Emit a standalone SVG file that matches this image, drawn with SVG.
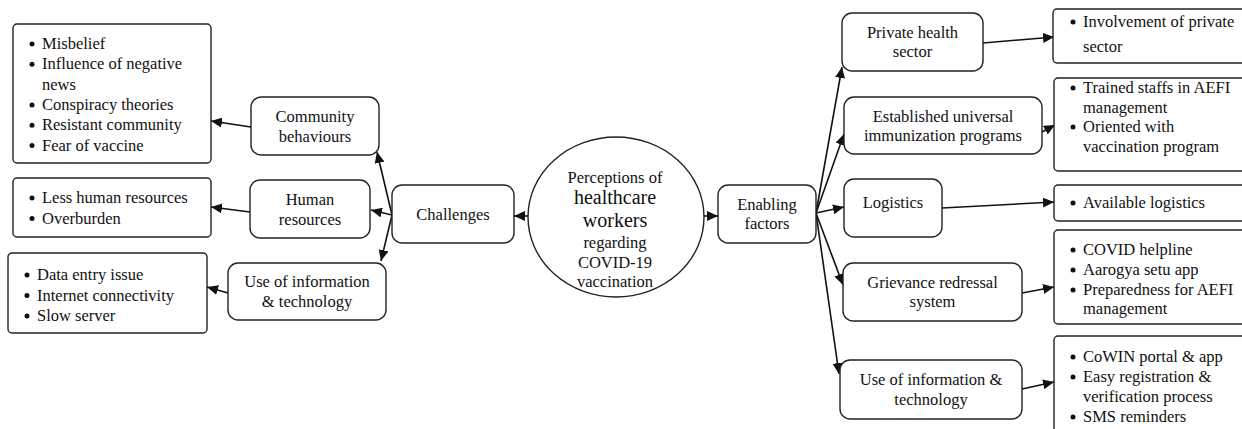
<svg xmlns="http://www.w3.org/2000/svg" width="1242" height="429" viewBox="0 0 1242 429">
  <style>
    text { font-family: "Liberation Serif", "Times New Roman", serif; font-size: 16.5px; fill: #111; }
    .node { fill: #fff; stroke: #222; stroke-width: 1.4; }
    .list { fill: #fff; stroke: #222; stroke-width: 1.4; }
    .c { text-anchor: middle; }
    .big { font-size: 20px; }
    .bul { fill: #111; }
    .edge { stroke: #111; stroke-width: 1.6; fill: none; marker-end: url(#arrow); }
  </style>
  <defs>
    <marker id="arrow" markerUnits="userSpaceOnUse" markerWidth="12" markerHeight="10" refX="11" refY="5" orient="auto">
      <path d="M0,0 L11,5 L0,10 Z" fill="#111"/>
    </marker>
  </defs>
  <rect width="1242" height="429" fill="#fff"/>

  <!-- connectors -->
  <g id="connectors">
    <line class="edge" x1="528" y1="216" x2="514" y2="216"/>
    <line class="edge" x1="704" y1="216" x2="718" y2="216"/>
    <line class="edge" x1="392" y1="215" x2="377" y2="152"/>
    <line class="edge" x1="392" y1="215" x2="371" y2="210"/>
    <line class="edge" x1="392" y1="215" x2="381" y2="261"/>
    <line class="edge" x1="251" y1="127" x2="211" y2="121"/>
    <line class="edge" x1="250" y1="212" x2="211" y2="207"/>
    <line class="edge" x1="228" y1="293" x2="207" y2="287"/>
    <line class="edge" x1="816" y1="213" x2="842" y2="67"/>
    <line class="edge" x1="816" y1="213" x2="844" y2="134"/>
    <line class="edge" x1="816" y1="213" x2="844" y2="207"/>
    <line class="edge" x1="816" y1="213" x2="843" y2="285"/>
    <line class="edge" x1="816" y1="213" x2="839" y2="374"/>
    <line class="edge" x1="983" y1="43" x2="1054" y2="37"/>
    <line class="edge" x1="1042" y1="132" x2="1055" y2="125"/>
    <line class="edge" x1="942" y1="208" x2="1054" y2="202"/>
    <line class="edge" x1="1022" y1="293" x2="1054" y2="287"/>
    <line class="edge" x1="1022" y1="389" x2="1054" y2="382"/>
  </g>

  <!-- centre topic -->
  <g id="topic">
    <ellipse cx="616" cy="217" rx="88" ry="80" fill="#fff" stroke="#222" stroke-width="1.4"/>
    <text class="c" x="615" y="183">Perceptions of</text>
    <text class="c big" x="615" y="204">healthcare</text>
    <text class="c big" x="615" y="227">workers</text>
    <text class="c" x="615" y="248">regarding</text>
    <text class="c" x="615" y="268">COVID-19</text>
    <text class="c" x="615" y="287">vaccination</text>
  </g>

  <!-- challenges branch -->
  <g id="challenges">
    <rect class="node" x="392" y="185" width="122" height="58" rx="10"/>
    <text class="c" x="453" y="220">Challenges</text>
  </g>
  <g id="community-behaviours">
    <rect class="node" x="251" y="97" width="128" height="58" rx="10"/>
    <text class="c" x="315" y="122">Community</text>
    <text class="c" x="315" y="142">behaviours</text>
  </g>
  <g id="human-resources">
    <rect class="node" x="250" y="180" width="120" height="58" rx="10"/>
    <text class="c" x="310" y="205">Human</text>
    <text class="c" x="310" y="225">resources</text>
  </g>
  <g id="it-challenges">
    <rect class="node" x="228" y="263" width="158" height="57" rx="10"/>
    <text class="c" x="307" y="287">Use of information</text>
    <text class="c" x="307" y="307">&amp; technology</text>
  </g>
  <g id="community-list">
    <rect class="list" x="13" y="24" width="198" height="139" rx="4"/>
    <circle class="bul" cx="32" cy="44" r="2.5"/><text x="42" y="49">Misbelief</text>
    <circle class="bul" cx="32" cy="64.3" r="2.5"/><text x="42" y="69.3">Influence of negative</text>
    <text x="42" y="89.6">news</text>
    <circle class="bul" cx="32" cy="104.9" r="2.5"/><text x="42" y="109.9">Conspiracy theories</text>
    <circle class="bul" cx="32" cy="125.2" r="2.5"/><text x="42" y="130.2">Resistant community</text>
    <circle class="bul" cx="32" cy="145.5" r="2.5"/><text x="42" y="150.5">Fear of vaccine</text>
  </g>
  <g id="human-list">
    <rect class="list" x="13" y="178" width="198" height="59" rx="4"/>
    <circle class="bul" cx="32" cy="198" r="2.5"/><text x="42" y="203">Less human resources</text>
    <circle class="bul" cx="32" cy="218.5" r="2.5"/><text x="42" y="223.5">Overburden</text>
  </g>
  <g id="it-challenges-list">
    <rect class="list" x="8" y="253" width="199" height="80" rx="4"/>
    <circle class="bul" cx="27" cy="275" r="2.5"/><text x="37" y="280">Data entry issue</text>
    <circle class="bul" cx="27" cy="295.5" r="2.5"/><text x="37" y="300.5">Internet connectivity</text>
    <circle class="bul" cx="27" cy="316" r="2.5"/><text x="37" y="321">Slow server</text>
  </g>

  <!-- enabling factors branch -->
  <g id="enabling-factors">
    <rect class="node" x="718" y="185" width="98" height="58" rx="10"/>
    <text class="c" x="767" y="210">Enabling</text>
    <text class="c" x="767" y="229">factors</text>
  </g>
  <g id="private-health">
    <rect class="node" x="842" y="13" width="141" height="58" rx="10"/>
    <text class="c" x="912.5" y="38">Private health</text>
    <text class="c" x="912.5" y="57">sector</text>
  </g>
  <g id="immunization">
    <rect class="node" x="844" y="97" width="198" height="57" rx="10"/>
    <text class="c" x="943" y="122">Established universal</text>
    <text class="c" x="943" y="141">immunization programs</text>
  </g>
  <g id="logistics">
    <rect class="node" x="844" y="179" width="98" height="58" rx="10"/>
    <text class="c" x="893" y="208">Logistics</text>
  </g>
  <g id="grievance">
    <rect class="node" x="843" y="263" width="179" height="58" rx="10"/>
    <text class="c" x="932.5" y="288">Grievance redressal</text>
    <text class="c" x="932.5" y="307">system</text>
  </g>
  <g id="it-enabling">
    <rect class="node" x="840" y="360" width="182" height="59" rx="10"/>
    <text class="c" x="931" y="385">Use of information &amp;</text>
    <text class="c" x="931" y="405">technology</text>
  </g>
  <g id="private-list">
    <rect class="list" x="1053" y="9" width="200" height="54" rx="4"/>
    <circle class="bul" cx="1073" cy="22" r="2.5"/><text x="1083" y="27">Involvement of private</text>
    <text x="1083" y="52">sector</text>
  </g>
  <g id="immunization-list">
    <rect class="list" x="1054" y="78" width="200" height="93" rx="4"/>
    <circle class="bul" cx="1073" cy="88" r="2.5"/><text x="1083" y="93">Trained staffs in AEFI</text>
    <text x="1083" y="112.5">management</text>
    <circle class="bul" cx="1073" cy="127" r="2.5"/><text x="1083" y="132">Oriented with</text>
    <text x="1083" y="151.5">vaccination program</text>
  </g>
  <g id="logistics-list">
    <rect class="list" x="1054" y="185" width="200" height="36" rx="4"/>
    <circle class="bul" cx="1073" cy="203" r="2.5"/><text x="1083" y="208">Available logistics</text>
  </g>
  <g id="grievance-list">
    <rect class="list" x="1054" y="230" width="200" height="94" rx="4"/>
    <circle class="bul" cx="1073" cy="250" r="2.5"/><text x="1083" y="255">COVID helpline</text>
    <circle class="bul" cx="1073" cy="270" r="2.5"/><text x="1083" y="275">Aarogya setu app</text>
    <circle class="bul" cx="1073" cy="290" r="2.5"/><text x="1083" y="295">Preparedness for AEFI</text>
    <text x="1083" y="314">management</text>
  </g>
  <g id="it-enabling-list">
    <rect class="list" x="1054" y="336" width="200" height="110" rx="4"/>
    <circle class="bul" cx="1073" cy="357" r="2.5"/><text x="1083" y="362">CoWIN portal &amp; app</text>
    <circle class="bul" cx="1073" cy="377" r="2.5"/><text x="1083" y="382">Easy registration &amp;</text>
    <text x="1083" y="401.5">verification process</text>
    <circle class="bul" cx="1073" cy="417" r="2.5"/><text x="1083" y="422">SMS reminders</text>
  </g>
</svg>
